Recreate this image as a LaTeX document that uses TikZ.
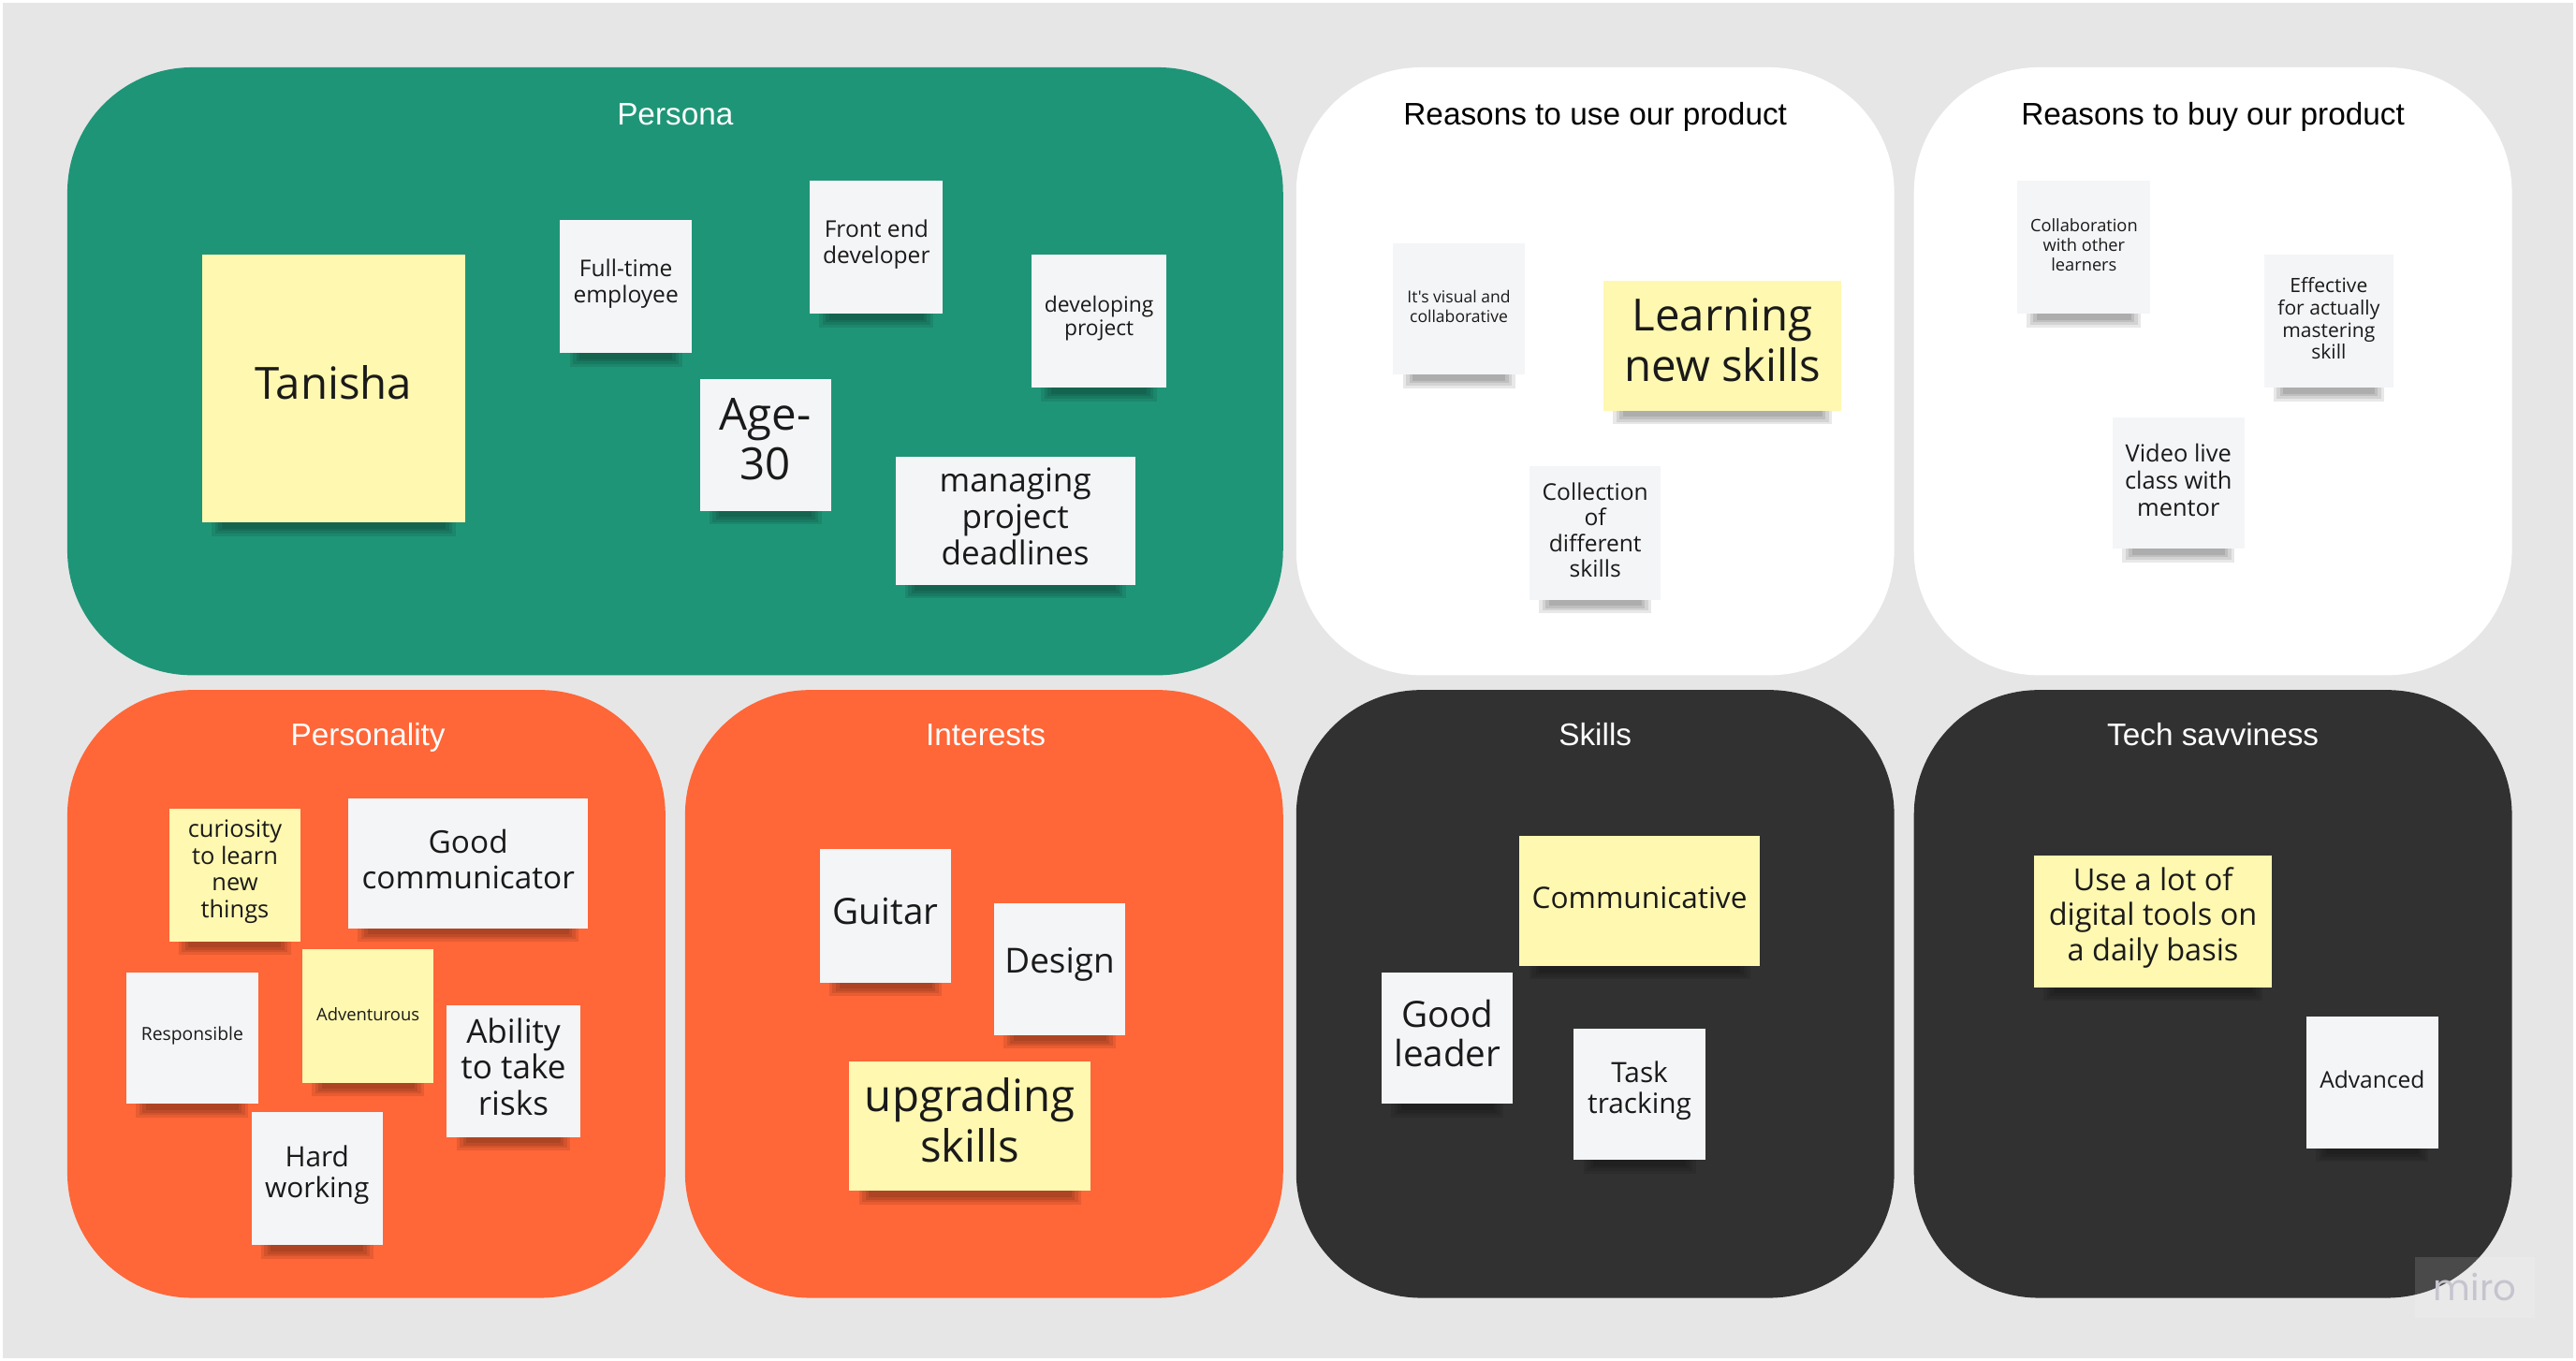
\documentclass[tikz,border=0pt]{standalone}
\usepackage{fontspec}
\setmainfont{Liberation Sans}
\newfontfamily\notefont{Open Sans}
\newfontfamily\mirofont{Poppins}
\pgfdeclarelayer{bg}
\pgfdeclarelayer{shad}
\pgfsetlayers{bg,shad,main}
\definecolor{boardgray}{HTML}{E6E6E6}
\definecolor{pgreen}{HTML}{1F9577}
\definecolor{porange}{HTML}{FF6638}
\definecolor{pdark}{HTML}{313131}
\definecolor{notewhite}{HTML}{F4F5F7}
\definecolor{noteyellow}{HTML}{FFF8B0}
\definecolor{notetext}{HTML}{1A1A1A}
\definecolor{mirogray}{HTML}{C6C4CE}
\newcommand\setfs[2]{\fontsize{#1}{#2}\selectfont}
\newcommand\stick[9]{%
  \node[#2, minimum width={#5-#3}, minimum height={#6-#4}] (#1) at ({(#3+#5)/2},{(#4+#6)/2}) {};
  \node[notetxt, font=\notefont\setfs{#7}{#8}, yshift={0.13*#7}] (#1-t) at (#1.center) {#9};
  \begin{pgfonlayer}{shad}
    \foreach \k in {0,1,2,3} {\fill[black, opacity=0.09] ([xshift={6+2*\k}, yshift=2]#1.south west) rectangle ([xshift={-6-2*\k}, yshift={-8+1.5*\k}]#1.south east);}
  \end{pgfonlayer}}
\begin{document}
\begin{tikzpicture}[x=1pt,y=-1pt,
  panel/.style={rounded corners=76pt, inner sep=0},
  ptitle/.style={font=\setfs{19}{22}, anchor=base, inner sep=0},
  wnote/.style={fill=notewhite, inner sep=0},
  ynote/.style={wnote, fill=noteyellow},
  notetxt/.style={inner sep=0, align=center, text=notetext}]
\begin{pgfonlayer}{bg}
  \fill[white] (0,0) rectangle (1568,828);
  \fill[boardgray] (1.5,1.5) rectangle (1566.5,826.5);
  \useasboundingbox (0,0) rectangle (1568,828);
  \node[panel, fill=pgreen, minimum width=740pt, minimum height=370pt] (persona) at (411,226) {};
  \node[panel, fill=white, minimum width=364pt, minimum height=370pt] (use) at (971,226) {};
  \node[panel, fill=white, minimum width=364pt, minimum height=370pt] (buy) at (1347,226) {};
  \node[panel, fill=porange, minimum width=364pt, minimum height=370pt] (personality) at (223,605) {};
  \node[panel, fill=porange, minimum width=364pt, minimum height=370pt] (interests) at (599,605) {};
  \node[panel, fill=pdark, minimum width=364pt, minimum height=370pt] (skills) at (971,605) {};
  \node[panel, fill=pdark, minimum width=364pt, minimum height=370pt] (tech) at (1347,605) {};
\end{pgfonlayer}
\node[ptitle, text=white] (tpersona) at (411,76) {Persona};
\node[ptitle, text=black] (tuse) at (971,76) {Reasons to use our product};
\node[ptitle, text=black] (tbuy) at (1347,76) {Reasons to buy our product};
\node[ptitle, text=white] (tpersonality) at (224,454) {Personality};
\node[ptitle, text=white] (tinterests) at (600,454) {Interests};
\node[ptitle, text=white] (tskills) at (971,454) {Skills};
\node[ptitle, text=white] (ttech) at (1347,454) {Tech savviness};
% Persona
\stick{tanisha}{ynote}{123}{155}{283}{318}{27}{30}{Tanisha}
\stick{fulltime}{wnote}{341}{134}{421}{215}{14}{16}{Full-time\\employee}
\stick{frontend}{wnote}{493}{110}{574}{191}{14}{16}{Front end\\developer}
\stick{devproj}{wnote}{628}{155}{710}{236}{13}{14.5}{developing\\project}
\stick{age}{wnote}{426}{231}{506}{311}{27}{30}{Age-\\30}
\stick{managing}{wnote}{545}{278}{691}{356}{20}{22}{managing\\project\\deadlines}
% Reasons to use
\stick{visual}{wnote}{848}{148}{928}{228}{10}{12}{It's visual and\\collaborative}
\stick{learning}{ynote}{976}{171}{1121}{250}{27}{31}{Learning\\new skills}
\stick{collection}{wnote}{931}{284}{1011}{365}{14}{15.6}{Collection\\of\\different\\skills}
% Reasons to buy
\stick{collab}{wnote}{1228}{110}{1309}{191}{10.4}{12}{Collaboration\\with other\\learners}
\stick{effective}{wnote}{1378}{155}{1457}{236}{12}{13.5}{Effective\\for actually\\mastering\\skill}
\stick{video}{wnote}{1286}{254}{1366}{334}{14.5}{16.5}{Video live\\class with\\mentor}
% Personality
\stick{curiosity}{ynote}{103}{492}{183}{573}{14.5}{16.3}{curiosity\\to learn\\new\\things}
\stick{goodcomm}{wnote}{212}{486}{358}{565}{19}{22}{Good\\communicator}
\stick{responsible}{wnote}{77}{592}{157}{672}{11}{13}{Responsible}
\stick{adventurous}{ynote}{184}{578}{264}{659}{10.5}{12}{Adventurous}
\stick{ability}{wnote}{272}{612}{353}{692}{20}{22}{Ability\\to take\\risks}
\stick{hardworking}{wnote}{153}{677}{233}{758}{17}{19}{Hard\\working}
% Interests
\stick{guitar}{wnote}{499}{517}{579}{598}{22}{26}{Guitar}
\stick{design}{wnote}{605}{550}{685}{630}{21}{25}{Design}
\stick{upgrading}{ynote}{517}{646}{664}{725}{27}{31}{upgrading\\skills}
% Skills
\stick{communicative}{ynote}{925}{509}{1071}{588}{18}{21}{Communicative}
\stick{goodleader}{wnote}{841}{592}{921}{672}{22}{24}{Good\\leader}
\stick{task}{wnote}{958}{626}{1038}{706}{17}{19}{Task\\tracking}
% Tech savviness
\stick{uselot}{ynote}{1238}{521}{1383}{601}{18.5}{21.5}{Use a lot of\\digital tools on\\a daily basis}
\stick{advanced}{wnote}{1404}{619}{1484}{699}{14}{16}{Advanced}
% watermark
\node[fill=white, fill opacity=0.12, text opacity=1, text=mirogray, minimum width=73pt, minimum height=37pt, inner sep=0, font=\mirofont\setfs{22}{24}] (miro) at (1506.5,783.5) {miro};
\end{tikzpicture}
\end{document}
